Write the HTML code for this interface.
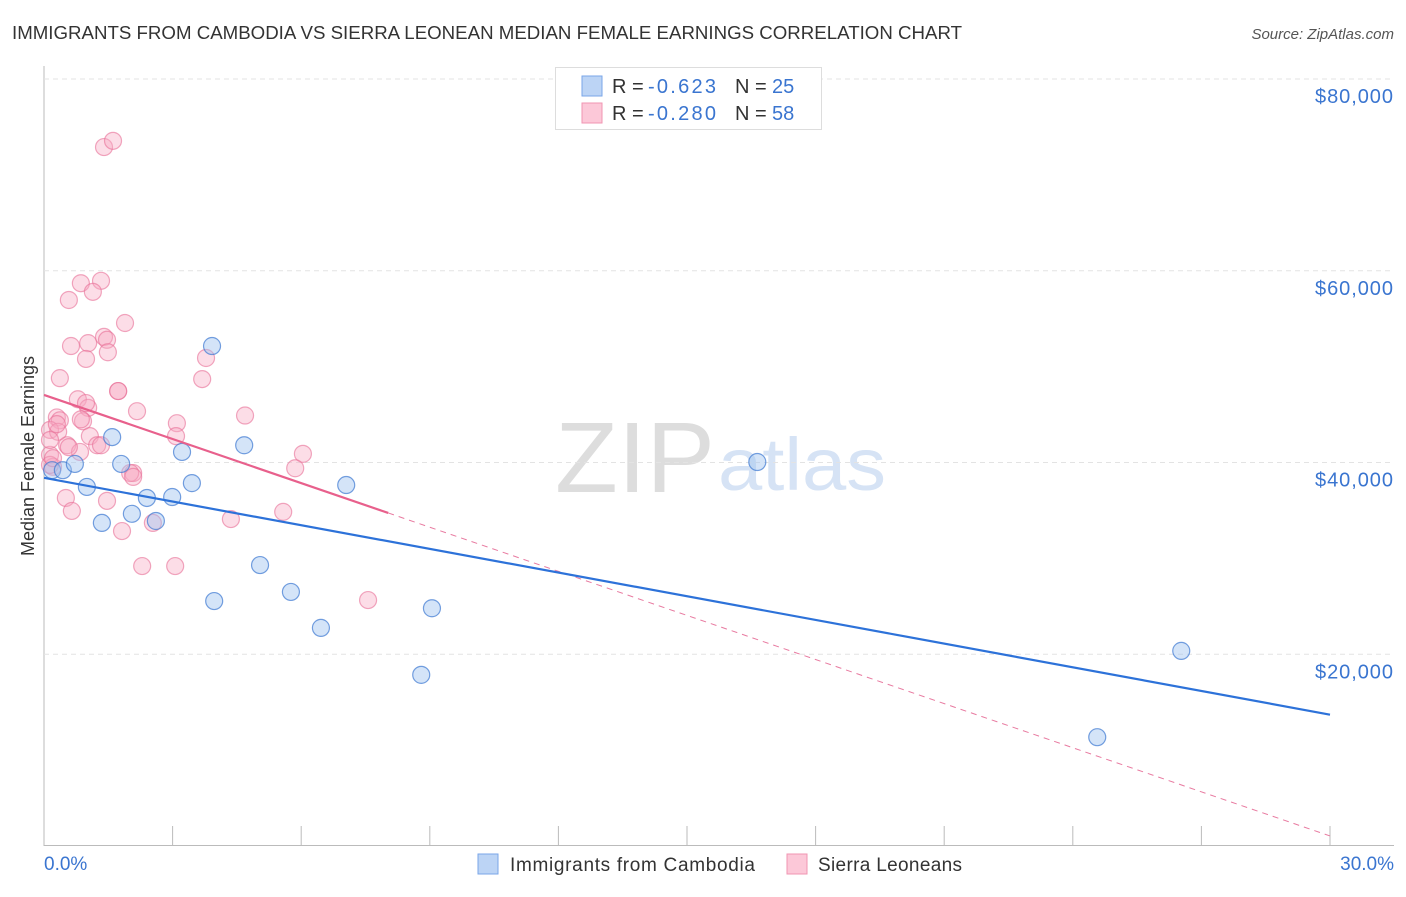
<!DOCTYPE html>
<html><head><meta charset="utf-8">
<style>
body{margin:0;background:#fff;font-family:"Liberation Sans",sans-serif;}
svg text{font-family:"Liberation Sans",sans-serif;}
</style></head>
<body>
<svg id="chart" width="1406" height="892" xmlns="http://www.w3.org/2000/svg">
<text x="12" y="39" font-size="18" fill="#333" textLength="950" lengthAdjust="spacingAndGlyphs">IMMIGRANTS FROM CAMBODIA VS SIERRA LEONEAN MEDIAN FEMALE EARNINGS CORRELATION CHART</text>
<text x="1394" y="39" font-size="15" fill="#555" font-style="italic" text-anchor="end">Source: ZipAtlas.com</text>
<text x="555" y="492" font-size="100" fill="#ddd" textLength="160" lengthAdjust="spacingAndGlyphs" font-family="Liberation Serif">ZIP</text>
<text x="718" y="490" font-size="74" fill="#d6e3f5" textLength="168" lengthAdjust="spacingAndGlyphs">atlas</text>
<text transform="translate(34,456) rotate(-90)" font-size="18" fill="#333" text-anchor="middle">Median Female Earnings</text>
<g id="grid"></g><g id="marks"></g>
<g>
<rect x="555.5" y="67.5" width="266" height="62" fill="#fff" stroke="#ddd"/>
<rect x="582" y="76" width="20" height="20" fill="#bcd4f5" stroke="#7aa6e8"/>
<text x="612" y="93" font-size="20" fill="#333">R = </text><text x="648" y="93" font-size="20" fill="#3a75d0" textLength="68">-0.623</text>
<text x="735" y="93" font-size="20" fill="#333">N = </text><text x="772" y="93" font-size="20" fill="#3a75d0">25</text>
<rect x="582" y="103" width="20" height="20" fill="#fcc8d8" stroke="#f095b2"/>
<text x="612" y="120" font-size="20" fill="#333">R = </text><text x="648" y="120" font-size="20" fill="#3a75d0" textLength="68">-0.280</text>
<text x="735" y="120" font-size="20" fill="#333">N = </text><text x="772" y="120" font-size="20" fill="#3a75d0">58</text>
</g>
<g>
<rect x="478" y="854" width="20" height="20" fill="#bcd4f5" stroke="#7aa6e8"/>
<text x="510" y="871" font-size="19" fill="#333" textLength="245">Immigrants from Cambodia</text>
<rect x="787" y="854" width="20" height="20" fill="#fcc8d8" stroke="#f095b2"/>
<text x="818" y="871" font-size="19" fill="#333" textLength="144">Sierra Leoneans</text>
</g>
</svg>
<script>
const yTicks=[20000,40000,60000,80000];
const yTickLabels=["$20,000","$40,000","$60,000","$80,000"];
const xTickLabels=["0.0%","30.0%"];
const blueX=[0.19,0.44,0.72,1.00,1.35,1.59,1.80,2.05,2.40,2.61,2.99,3.22,3.45,3.92,3.97,4.67,5.04,5.76,6.46,7.05,8.80,9.05,16.64,24.57,26.53];
const blueY=[39200,39200,39850,37450,33700,42650,39850,34650,36300,33900,36400,41100,37850,52150,25550,41800,29300,26500,22750,37650,17850,24800,40050,11350,20350];
const pinkX=[0.86,1.33,1.14,0.58,1.89,0.63,1.03,1.40,1.47,1.49,0.98,0.37,1.73,0.79,1.03,2.17,3.78,3.69,4.69,0.30,0.37,0.91,3.10,3.08,1.07,0.14,0.33,0.54,1.24,0.84,0.14,0.21,6.04,5.86,2.08,2.01,0.51,0.65,1.47,1.82,2.54,4.36,5.58,2.29,3.06,7.56,1.40,1.61,0.14,0.14,0.21,1.73,0.58,1.33,2.08,0.86,0.98,0.30];
const pinkY=[58700,58950,57800,56950,54550,52150,52450,53100,52800,51500,50800,48800,47450,46600,45700,45350,50900,48700,44900,44700,44400,44300,44100,42750,42750,43400,43200,41800,41800,41100,40800,39550,40900,39400,38900,38900,36300,34950,36000,32850,33700,34100,34850,29200,29200,25650,72900,73550,42350,39750,40450,47450,41600,41800,38500,44500,46200,44000];
const blueTrend=[38400,13700];
const pinkTrend=[47050,1050];
const pinkSolidEnd=8.03;

const X=v=>44+v/30*1286;
const Y=v=>846-v/20000*191.75;
const NS="http://www.w3.org/2000/svg";
const grid=document.getElementById('grid'),marks=document.getElementById('marks');
function mk(tag,attrs,parent){const e=document.createElementNS(NS,tag);for(const k in attrs)e.setAttribute(k,attrs[k]);parent.appendChild(e);return e;}

const ax=mk('line',{x1:44,y1:66,x2:44,y2:846,stroke:'#bbb'},grid);


const bx=mk('line',{x1:44,y1:845.5,x2:1394,y2:845.5,stroke:'#bbb'},grid);


for(let i=0;i<=10;i++){
 const t=mk('line',{x1:X(i*3),y1:826,x2:X(i*3),y2:846,stroke:'#bbb'},grid);
 
 
}
yTicks.forEach((v,i)=>{
 const g=mk('line',{x1:44,y1:Y(v),x2:1394,y2:Y(v),stroke:'#e3e3e3','stroke-dasharray':'5,4'},grid);
 
 
 const t=mk('text',{x:1393,y:Y(v)+24,'font-size':20,fill:'#3a75d0','text-anchor':'end',textLength:78},grid);
 t.textContent=yTickLabels[i];
 
 
});
[[0,44,'start'],[30,1394,'end']].forEach((d,i)=>{
 const t=mk('text',{x:d[1],y:870,'font-size':19,fill:'#3a75d0','text-anchor':d[2]},grid);
 t.textContent=xTickLabels[i];
 
 
});
pinkX.forEach((x,i)=>{
 const c=mk('circle',{cx:X(x),cy:Y(pinkY[i]),r:8.5,fill:'rgba(248,170,195,0.4)',stroke:'rgba(232,110,150,0.6)','stroke-width':1.2},marks);
 
 
});
blueX.forEach((x,i)=>{
 const c=mk('circle',{cx:X(x),cy:Y(blueY[i]),r:8.5,fill:'rgba(160,195,240,0.45)',stroke:'rgba(60,120,210,0.7)','stroke-width':1.2},marks);
 
 
});
const pv=x=>pinkTrend[0]+(pinkTrend[1]-pinkTrend[0])*x/30;
const pd=mk('line',{x1:X(pinkSolidEnd),y1:Y(pv(pinkSolidEnd)),x2:X(30),y2:Y(pinkTrend[1]),stroke:'#e87aa0','stroke-width':1,'stroke-dasharray':'6,5'},marks);


const ps=mk('line',{x1:X(0),y1:Y(pinkTrend[0]),x2:X(pinkSolidEnd),y2:Y(pv(pinkSolidEnd)),stroke:'#e8608c','stroke-width':2.2},marks);


const bl=mk('line',{x1:X(0),y1:Y(blueTrend[0]),x2:X(30),y2:Y(blueTrend[1]),stroke:'#2d72d9','stroke-width':2.2},marks);


</script>
</body></html>
